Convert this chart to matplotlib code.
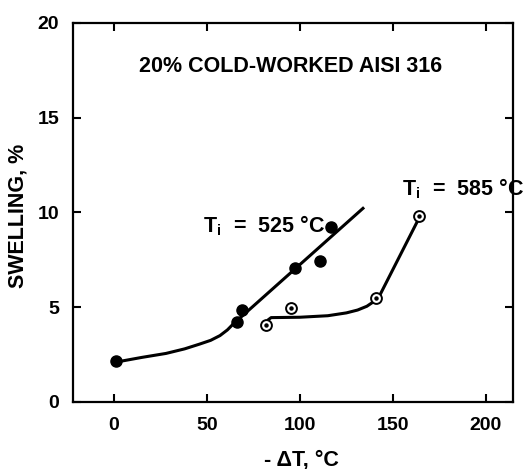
import numpy as np
import matplotlib
matplotlib.use("Agg")
import matplotlib.pyplot as plt

plt.rcParams["font.family"] = ["Liberation Sans", "DejaVu Sans"]
plt.rcParams["font.weight"] = "bold"
plt.rcParams["mathtext.fontset"] = "custom"
plt.rcParams["mathtext.rm"] = "Liberation Sans:bold"
plt.rcParams["mathtext.bf"] = "Liberation Sans:bold"
plt.rcParams["mathtext.it"] = "Liberation Sans:bold"

# measured swelling, Ti = 525 C (filled) and Ti = 585 C (open)
dT_525 = [1, 66, 69, 97.5, 111, 116.5]
sw_525 = [2.15, 4.2, 4.85, 7.05, 7.45, 9.25]
dT_585 = [82, 95, 141, 164]
sw_585 = [4.05, 4.95, 5.5, 9.8]

# hand-drawn trend curves
fit_x_525 = [1, 15, 28, 38, 46, 52, 57, 61, 64, 134.5]
fit_y_525 = [2.1, 2.35, 2.56, 2.8, 3.05, 3.25, 3.5, 3.8, 4.1, 10.27]
fit_x_585 = [82.5, 84.5, 100, 115, 125, 131, 136, 142, 163.5]
fit_y_585 = [4.3, 4.45, 4.47, 4.55, 4.7, 4.85, 5.05, 5.45, 9.6]

xticks = [0, 50, 100, 150, 200]
yticks = [0, 5, 10, 15, 20]

fig = plt.figure(figsize=(5.25, 4.69), dpi=100)
ax = fig.add_axes([0.139, 0.143, 0.838, 0.808])

ax.plot(fit_x_525, fit_y_525, color="black", lw=2.2, solid_capstyle="butt")
ax.plot(fit_x_585, fit_y_585, color="black", lw=2.2, solid_capstyle="butt")
ax.plot(dT_525, sw_525, "o", color="black", ms=8)
ax.plot(dT_585, sw_585, "o", mfc="white", mec="black", mew=1.4, ms=7.8)
ax.plot(dT_585, sw_585, "o", color="black", ms=2.2)

ax.text(94.9, 17.68, "20% COLD-WORKED AISI 316", ha="center", va="center",
        fontsize=15.5, fontweight="bold")
ax.text(47.8, 8.97, r"T$_\mathrm{i}$  =  525 °C", ha="left", va="baseline",
        fontsize=15.5, fontweight="bold")
ax.text(154.7, 10.92, r"T$_\mathrm{i}$  =  585 °C", ha="left", va="baseline",
        fontsize=15.5, fontweight="bold")

ax.set_xlim(-22, 214.5)
ax.set_ylim(0, 20)
ax.set_xticks(xticks)
ax.set_yticks(yticks)
ax.tick_params(direction="in", length=6, width=1.5, labelsize=14,
               top=True, right=True)
ax.tick_params(axis="x", pad=11)
ax.tick_params(axis="y", pad=10)
for s in ax.spines.values():
    s.set_linewidth(1.6)

ax.set_xlabel("- ΔT, °C", fontsize=15.5, fontweight="bold")
ax.set_ylabel("SWELLING, %", fontsize=15.5, fontweight="bold")
ax.xaxis.set_label_coords(0.52, -0.125)
ax.yaxis.set_label_coords(-0.102, 0.49)

fig.savefig("out.png", dpi=100)
